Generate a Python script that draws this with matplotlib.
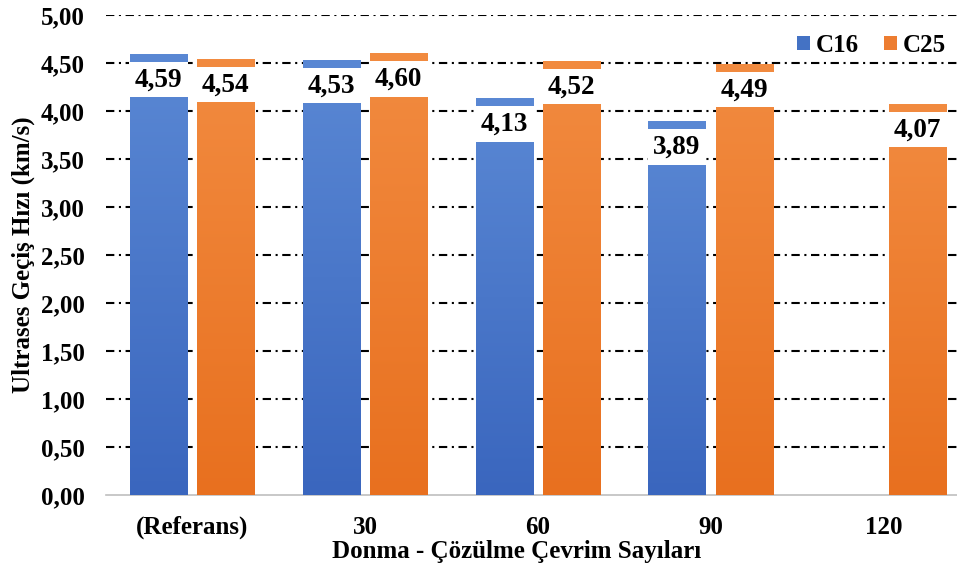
import numpy as np
import matplotlib
matplotlib.use("Agg")
import matplotlib.pyplot as plt
from matplotlib.patches import Rectangle
from matplotlib.colors import LinearSegmentedColormap

categories = ["(Referans)", "30", "60", "90", "120"]
c16 = [4.59, 4.53, 4.13, 3.89, np.nan]
c25 = [4.54, 4.60, 4.52, 4.49, 4.07]
yticks = [0, 0.5, 1.0, 1.5, 2.0, 2.5, 3.0, 3.5, 4.0, 4.5, 5.0]

plt.rcParams["font.family"] = ["Liberation Serif", "DejaVu Serif"]
plt.rcParams["font.weight"] = "bold"

fig = plt.figure(figsize=(9.57, 5.73), dpi=100)
ax = fig.add_axes([0.1105, 0.136, 0.903, 0.838])

x = np.arange(len(categories))
w = 0.33
off = 0.195

series = [
    ("C16", c16, -off, "#4472C4", ("#5A88D4", "#3A66BE")),
    ("C25", c25, off, "#ED7D31", ("#F28B40", "#E8701F")),
]

for name, vals, dx, col, (top_c, bot_c) in series:
    bars = ax.bar(x + dx, vals, w, color=col, label=name, zorder=3)
    cmap = LinearSegmentedColormap.from_list(name, [bot_c, top_c])
    grad = np.linspace(0, 1, 256).reshape(-1, 1)
    for b, v in zip(bars, vals):
        if np.isnan(v) or v == 0:
            continue
        im = ax.imshow(grad, cmap=cmap, aspect="auto", origin="lower",
                       extent=[b.get_x(), b.get_x() + w, 0, v], zorder=3.5)
        im.set_clip_path(b)
        # value label in a white box just under the bar top
        ax.add_patch(Rectangle((b.get_x() - 0.005, v - 0.45), w + 0.01, 0.37,
                               facecolor="white", edgecolor="none", zorder=4))
        ax.text(b.get_x() + w / 2, v - 0.27, f"{v:.2f}".replace(".", ","),
                ha="center", va="center", fontsize=19.5, fontweight="bold",
                zorder=5)

ax.set_xlim(-0.5, len(categories) - 0.5)
ax.set_ylim(0, 5)
ax.set_yticks(yticks)
ax.set_yticklabels([f"{t:.2f}".replace(".", ",") for t in yticks], fontsize=18)
ax.set_xticks(x)
ax.set_xticklabels(categories, fontsize=18)
ax.tick_params(axis="x", length=0, pad=15)
ax.tick_params(axis="y", length=0, pad=15)

for t in yticks[1:]:
    ax.axhline(t, color="black", lw=1.5, linestyle=(0, (4, 2.2, 1, 2.2)), zorder=1)

for s in ["top", "right", "left"]:
    ax.spines[s].set_visible(False)
ax.spines["bottom"].set_color("#BFBFBF")
ax.spines["bottom"].set_linewidth(1.2)

ax.set_ylabel("Ultrases Geçiş Hızı (km/s)", fontsize=18, fontweight="bold")
ax.yaxis.set_label_coords(-0.082, 0.5)
ax.set_xlabel("Donma - Çözülme Çevrim Sayıları", fontsize=18, fontweight="bold")
ax.xaxis.set_label_coords(0.476, -0.093)

ax.legend(loc="center right", bbox_to_anchor=(0.9885, 0.921), bbox_transform=fig.transFigure,
          ncol=2, frameon=False, handlelength=0.5, handleheight=0.5,
          handletextpad=0.25, columnspacing=1.0, borderpad=0, borderaxespad=0,
          prop={"weight": "bold", "size": 18})

fig.savefig("out.png", dpi=100)
